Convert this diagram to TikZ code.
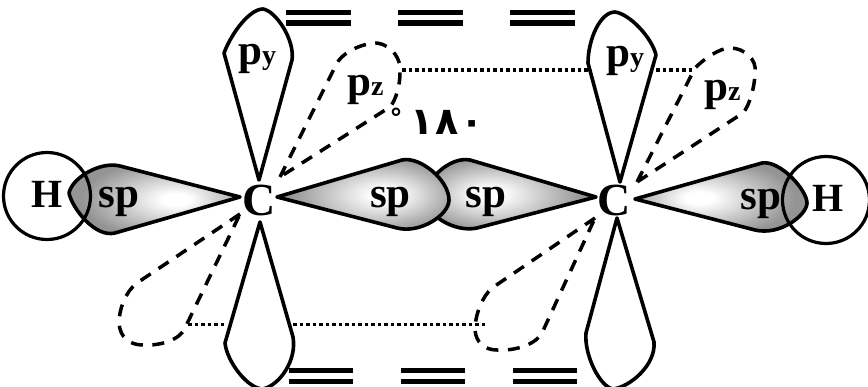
\documentclass[tikz,border=0pt]{standalone}
\usepackage{fontspec}
\setmainfont{Liberation Serif}
\newfontfamily\arabicfont[Script=Arabic]{DejaVu Sans}
\usepackage{xcolor}
\usetikzlibrary{positioning,calc}

\pgfdeclareradialshading{lobeshade}{\pgfpoint{7bp}{0bp}}{
  color(0bp)=(white); color(4bp)=(white); color(25bp)=(black!42); color(50bp)=(black!42)}

\begin{document}
\begin{tikzpicture}[
    x=1pt, y=-1pt,
    line join=round,
    splobe/.style={draw, line width=3.6pt, shading=lobeshade},
    plobe/.style={draw, line width=3.6pt},
    pzlobe/.style={draw, line width=3.5pt, dash pattern=on 12pt off 9.5pt},
    overlap/.style={dash pattern=on 3.5pt off 3pt, line width=3.5pt},
    bar/.style={line width=5.5pt},
    atom/.style={draw, circle, line width=3.2pt, minimum size=87pt, inner sep=0pt},
    lbl/.style={inner sep=0pt, font=\fontsize{43}{43}\selectfont\bfseries},
    lblsub/.style={inner sep=0pt, anchor=base west, font=\fontsize{43}{43}\selectfont\bfseries}
]
\useasboundingbox (0,0) rectangle (868,387);

\draw[splobe] (240,197) -- (120,166) .. controls (100,161) and (72,178) .. (69,193)
    .. controls (72,208) and (95,238) .. (115,233) -- cycle;
\draw[splobe, shading angle=180] (596,197) -- (470,160) .. controls (450,156) and (425,180) .. (425,197)
    .. controls (425,215) and (455,233) .. (477,228) -- cycle;
\draw[splobe] (277,197) -- (402,160) .. controls (420,156) and (449,180) .. (449,200)
    .. controls (449,215) and (420,234) .. (397,228) -- cycle;
\draw[splobe, shading angle=180] (635,199) -- (762,163) .. controls (780,160) and (807,190) .. (807,203)
    .. controls (807,215) and (780,236) .. (755,230) -- cycle;

\draw[plobe] (259,180) -- (224,53) .. controls (232,32) and (250,9) .. (263,9)
    .. controls (276,11) and (295,40) .. (292,60) -- cycle;
\draw[plobe] (260,222) -- (225,343) .. controls (227,362) and (248,389) .. (263,389)
    .. controls (280,385) and (297,360) .. (293,337) -- cycle;
\draw[plobe] (620,182) -- (588,63) .. controls (588,40) and (600,12) .. (615,12)
    .. controls (630,14) and (652,38) .. (656,55) -- cycle;
\draw[plobe] (617,218) -- (586,333) .. controls (584,355) and (600,387) .. (613,389)
    .. controls (630,387) and (656,365) .. (654,342) -- cycle;

\draw[pzlobe] (280,177) -- (337,63) .. controls (345,50) and (365,43) .. (377,43)
    .. controls (392,45) and (402,60) .. (400,73) .. controls (400,85) and (396,100) .. (390,107) -- cycle;
\draw[pzlobe] (637,182) -- (695,68) .. controls (705,58) and (720,48) .. (730,48)
    .. controls (745,48) and (757,60) .. (755,72) .. controls (755,85) and (750,105) .. (743,113) -- cycle;
\draw[pzlobe] (240,214) -- (137,283) .. controls (125,292) and (119,310) .. (119,323)
    .. controls (120,338) and (130,345) .. (143,345) .. controls (160,346) and (180,340) .. (185,328) -- cycle;
\draw[pzlobe] (595,218) -- (492,288) .. controls (482,297) and (475,315) .. (475,330)
    .. controls (476,343) and (485,350) .. (497,350) .. controls (515,351) and (535,345) .. (542,333) -- cycle;

\coordinate (pzlt) at (402,70);
\coordinate (pylt) at (588,70);
\coordinate (pyrt) at (656,70);
\coordinate (pzrt) at (695,70);
\coordinate (pzlb) at (188,324.5);
\coordinate (pylb) at (225,324.5);
\coordinate (pyrb) at (293,324.5);
\coordinate (pzrb) at (485,324.5);
\draw[overlap] (pzlt) -- (pylt);
\draw[overlap] (pyrt) -- (pzrt);
\draw[overlap] (pzlb) -- (pylb);
\draw[overlap] (pyrb) -- (pzrb);

\foreach \x in {286,398,510} {
    \draw[bar] (\x,12.5) -- ++(64.5,0);
    \draw[bar] (\x,23) -- ++(64.5,0);
}
\foreach \x in {289,401,513} {
    \draw[bar] (\x,370.5) -- ++(64,0);
    \draw[bar] (\x,381.5) -- ++(64,0);
}

\node[atom] (hl) at (47,196) {};
\node[atom] (hr) at (826,200) {};

\node[lbl, anchor=base, font=\fontsize{40}{40}\selectfont\bfseries] (hltext) at (47.5,208) {H};
\node[lbl, anchor=base, font=\fontsize{40}{40}\selectfont\bfseries] (hrtext) at (828,212) {H};
\node[lbl, anchor=base, font=\fontsize{46}{46}\selectfont\bfseries] (cl) at (259,216) {C};
\node[lbl, anchor=base, font=\fontsize{46}{46}\selectfont\bfseries] (cr) at (614,216) {C};
\node[lbl, anchor=base] (sp1) at (119,208) {sp};
\node[lbl, anchor=base] (sp2) at (390.5,208) {sp};
\node[lbl, anchor=base] (sp3) at (486,208) {sp};
\node[lbl, anchor=base] (sp4) at (761,210) {sp};

\node[lblsub] (py1) at (238,65) {p\fontsize{28}{28}\selectfont y};
\node[lblsub] (py2) at (606,67) {p\fontsize{28}{28}\selectfont y};
\node[lblsub] (pz1) at (347,96) {p\fontsize{28}{28}\selectfont z};
\node[lblsub] (pz2) at (704,101) {p\fontsize{28}{28}\selectfont z};

\node[inner sep=0pt, anchor=base, font=\arabicfont\fontsize{26}{26}\selectfont\bfseries] (deg) at (396,128) {°};
\node[inner sep=0pt, anchor=base, font=\arabicfont\fontsize{38}{38}\selectfont\bfseries] (ang) at (447,135) {١\hspace{1.5pt}٨\hspace{1.5pt}٠};
\end{tikzpicture}
\end{document}
